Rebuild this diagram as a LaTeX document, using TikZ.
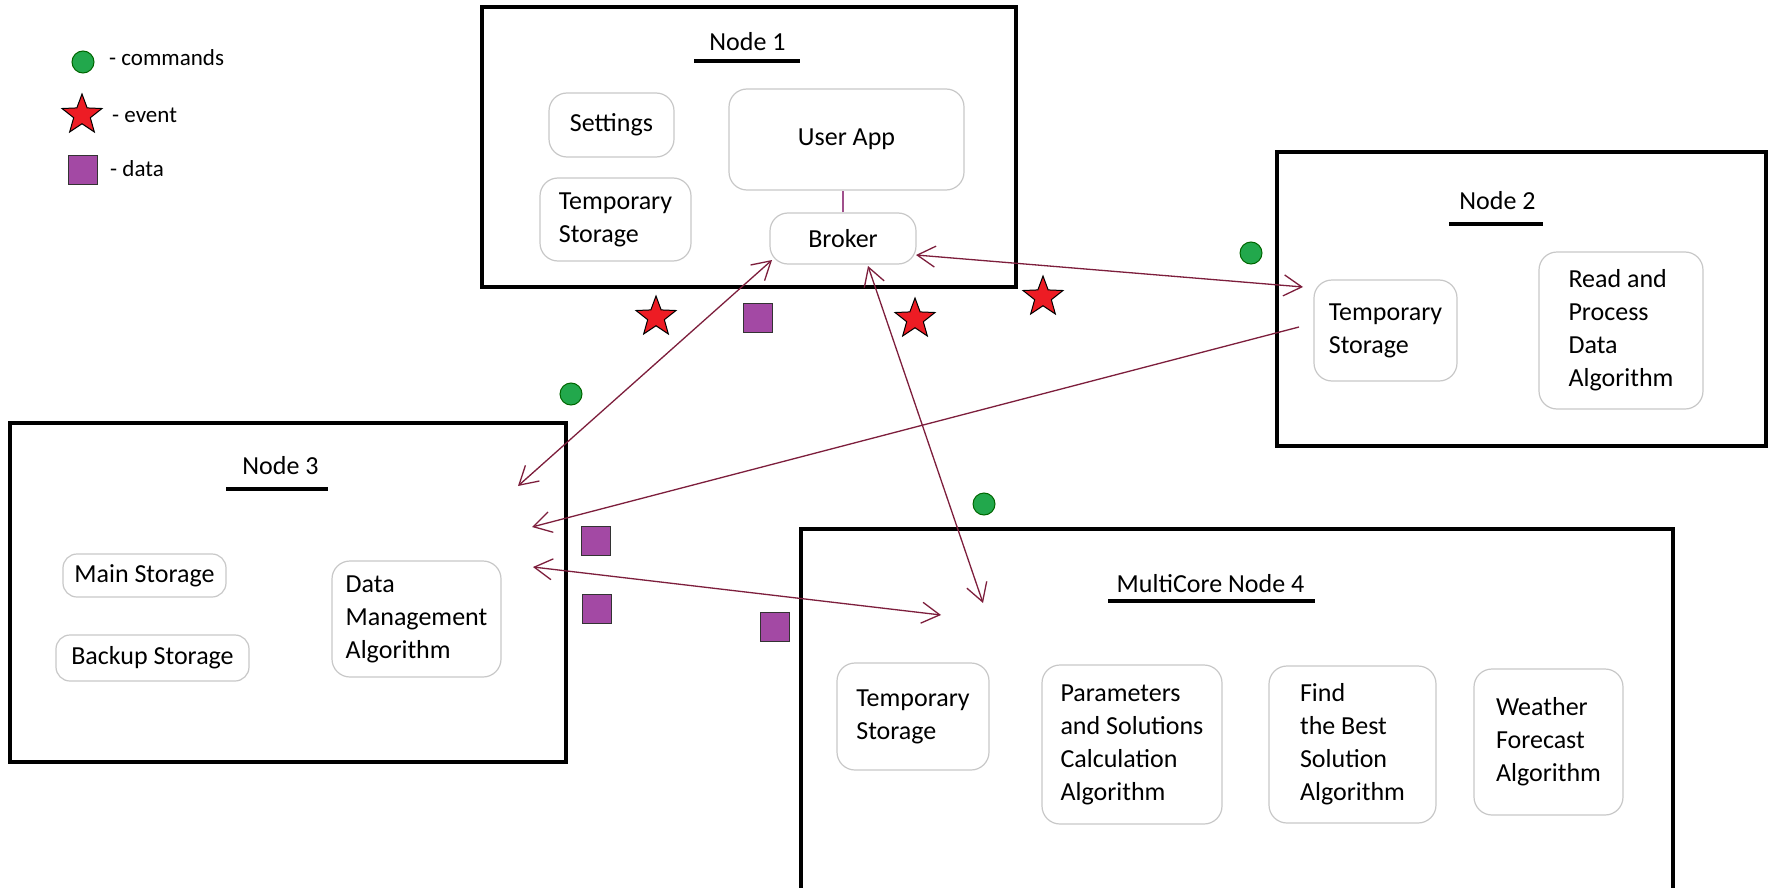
\documentclass[tikz,border=0pt]{standalone}
\usepackage{fontspec}
\setmainfont{Carlito}
\usetikzlibrary{arrows.meta,shapes.geometric}
\definecolor{maroonc}{RGB}{125,30,60}
\definecolor{linkc}{RGB}{160,80,140}
\definecolor{boxgray}{RGB}{200,200,200}
\definecolor{cmdgreen}{RGB}{34,168,76}
\definecolor{evtred}{RGB}{237,28,36}
\definecolor{datpurple}{RGB}{163,73,164}
\tikzset{
  bigbox/.style={draw=black, line width=4pt},
  uline/.style={draw=black, line width=3.5pt},
  title/.style={font=\fontsize{26}{33}\selectfont, inner sep=0pt},
  ibox/.style={draw=boxgray, line width=1.2pt, rounded corners=18pt, align=left,
    inner sep=0pt, font=\fontsize{26}{33}\selectfont},
  legtext/.style={font=\fontsize{23}{28}\selectfont, inner sep=0pt, anchor=base west},
  cmd/.style={circle, draw=black!60!green, line width=1pt, fill=cmdgreen, minimum size=22pt, inner sep=0pt},
  evt/.style={star, star points=5, star point ratio=2.4, draw=black, line width=1pt, fill=evtred, minimum size=42pt, inner sep=0pt},
  dat/.style={rectangle, draw=black!80, line width=1.2pt, fill=datpurple, minimum size=29pt, inner sep=0pt},
  arr/.style={draw=maroonc, line width=1.3pt},
  biarr/.style={arr, {Straight Barb[length=18pt,width=21pt]}-{Straight Barb[length=18pt,width=21pt]}},
  onearr/.style={arr, -{Straight Barb[length=18pt,width=21pt]}},
  link/.style={draw=linkc, line width=1.2pt}
}
\begin{document}
\begin{tikzpicture}[x=1pt,y=-1pt]
\useasboundingbox (0,0) rectangle (1772,888);
\fill[white] (0,0) rectangle (1772,888);

% legend
\node[cmd] (c0) at (83,62) {};
\node[evt] (e0) at (82,115) {};
\node[dat] (d0) at (83,170) {};
\node[legtext] (l1) at (109,66) {- commands};
\node[legtext] (l2) at (112,123) {- event};
\node[legtext] (l3) at (110,176) {- data};

% big boxes
\draw[bigbox] (482,7) rectangle (1016,287);
\draw[bigbox] (1277,152) rectangle (1766,446);
\draw[bigbox] (10,423) rectangle (566,762);
\draw[bigbox] (801,900) -- (801,529) -- (1673,529) -- (1673,900);

% titles
\node[title, anchor=base] (t1) at (747.5,51) {Node 1};
\draw[uline] (694,61) -- (800,61);
\node[title, anchor=base] (t2) at (1497.5,209) {Node 2};
\draw[uline] (1449,224) -- (1543,224);
\node[title, anchor=base] (t3) at (280.5,474) {Node 3};
\draw[uline] (226,489) -- (328,489);
\node[title, anchor=base] (t4) at (1210.5,592) {MultiCore Node 4};
\draw[uline] (1108,601) -- (1315,601);

% Node 1 content
\node[ibox, minimum width=125pt, minimum height=64pt] (settings) at (611.5,125) {Settings};
\node[ibox, minimum width=151pt, minimum height=83pt] (tmp1) at (615.5,219.5) {Temporary\\Storage};
\node[ibox, minimum width=235pt, minimum height=101pt] (userapp) at (846.5,139.5) {User App};
\node[ibox, minimum width=146pt, minimum height=51pt] (broker) at (843,238.5) {Broker};
\draw[link] (broker.north) -- (broker.north |- userapp.south);

% Node 2 content
\node[ibox, minimum width=143pt, minimum height=101pt] (tmp2) at (1385.5,330.5) {Temporary\\Storage};
\node[ibox, minimum width=164pt, minimum height=157pt] (readproc) at (1621,330.5) {Read and\\Process\\Data\\Algorithm};

% Node 3 content
\node[ibox, rounded corners=14pt, minimum width=163pt, minimum height=43pt] (mainst) at (144.5,575.5) {Main Storage};
\node[ibox, rounded corners=14pt, minimum width=193pt, minimum height=46pt] (backup) at (152.5,658) {Backup Storage};
\node[ibox, minimum width=169pt, minimum height=116pt] (dma) at (416.5,619) {Data\\Management\\Algorithm};

% Node 4 content
\node[ibox, minimum width=152pt, minimum height=107pt] (tmp4) at (913,716.5) {Temporary\\Storage};
\node[ibox, minimum width=180pt, minimum height=159pt] (params) at (1132,744.5) {Parameters\\and Solutions\\Calculation\\Algorithm};
\node[ibox, minimum width=167pt, minimum height=157pt] (findbest) at (1352.5,744.5) {Find\\the Best\\Solution\\Algorithm};
\node[ibox, minimum width=149pt, minimum height=146pt] (weather) at (1548.5,742) {Weather\\Forecast\\Algorithm};

% connector end points
\coordinate (bN2) at (916,255);
\coordinate (n2in) at (1303,287);
\coordinate (bN3) at (772,260);
\coordinate (n3in) at (518,486);
\coordinate (bN4) at (868,266);
\coordinate (n4in) at (983,603);
\coordinate (n2out) at (1299,327);
\coordinate (n3in2) at (532,527);
\coordinate (n3in3) at (533,567);
\coordinate (n4in2) at (941,615);

% connectors
\draw[biarr] (bN2) -- (n2in);
\draw[biarr] (bN3) -- (n3in);
\draw[biarr] (bN4) -- (n4in);
\draw[onearr] (n2out) -- (n3in2);
\draw[biarr] (n3in3) -- (n4in2);

% markers
\node[cmd] (c1) at (571,394) {};
\node[cmd] (c2) at (984,504) {};
\node[cmd] (c3) at (1251,253) {};
\node[evt] (e1) at (656,317) {};
\node[evt] (e2) at (915,319) {};
\node[evt] (e3) at (1043,297) {};
\node[dat] (d1) at (758,318) {};
\node[dat] (d2) at (596,541) {};
\node[dat] (d3) at (597,609) {};
\node[dat] (d4) at (775,627) {};
\end{tikzpicture}
\end{document}
